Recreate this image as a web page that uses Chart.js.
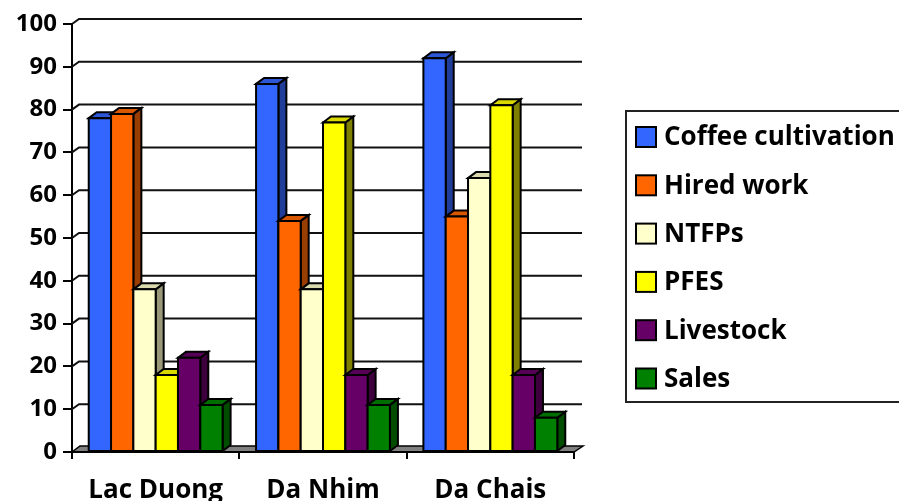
<!DOCTYPE html>
<html>
<head>
<meta charset="utf-8">
<title>Income sources by commune</title>
<script src="https://cdn.jsdelivr.net/npm/chart.js@4/dist/chart.umd.min.js"></script>
<style>
  html, body { margin: 0; padding: 0; background: #fff; overflow: hidden; }
  #wrap { width: 899px; height: 501px; position: relative; }
</style>
</head>
<body>
<div id="wrap"><canvas id="c" width="899" height="501"></canvas></div>
<script>
// Categories and series
const regions = ['Lac Duong', 'Da Nhim', 'Da Chais'];
const seriesNames = ['Coffee cultivation', 'Hired work', 'NTFPs', 'PFES', 'Livestock', 'Sales'];
const coffeeCultivation = [78, 86, 92];
const hiredWork = [79, 54, 55];
const ntfps = [38, 38, 64];
const pfes = [18, 77, 81];
const livestock = [22, 18, 18];
const sales = [11, 11, 8];
const yTickValues = [0, 10, 20, 30, 40, 50, 60, 70, 80, 90, 100];

// Face colours for the pseudo-3D columns
const frontColors = ['#3366FF', '#FF6600', '#FFFFCC', '#FFFF00', '#660066', '#008000'];
const topColors   = ['#2D57D6', '#D95700', '#D9D9AD', '#D9D900', '#570057', '#006D00'];
const sideColors  = ['#1F3D99', '#993D00', '#99997A', '#808000', '#3D003D', '#004D00'];

const seriesValues = [coffeeCultivation, hiredWork, ntfps, pfes, livestock, sales];

const DX = 8, DY = -6;         // depth offset of column tops/sides
const WX = 7, WY = -5;         // depth offset of the back wall
const FONT = "'Open Sans', 'DejaVu Sans', sans-serif";

const wallsPlugin = {
  id: 'walls',
  beforeDatasetsDraw(chart) {
    const ctx = chart.ctx;
    const ys = chart.scales.y;
    const area = chart.chartArea;
    ctx.save();
    // back wall gridlines with slanted connectors to the axis
    ctx.strokeStyle = '#111';
    ctx.lineWidth = 2;
    yTickValues.forEach(v => {
      if (v === 0) return;
      const py = ys.getPixelForValue(v);
      ctx.beginPath();
      ctx.moveTo(area.left, py);
      ctx.lineTo(area.left + WX, py + WY);
      ctx.lineTo(area.right + DX, py + WY);
      ctx.stroke();
    });
    // floor
    const fy = ys.getPixelForValue(0);
    ctx.beginPath();
    ctx.moveTo(area.left, fy);
    ctx.lineTo(area.right, fy);
    ctx.lineTo(area.right + DX + 1, fy + DY);
    ctx.lineTo(area.left + DX, fy + DY);
    ctx.closePath();
    ctx.fillStyle = '#808080';
    ctx.fill();
    ctx.lineWidth = 1.5;
    ctx.strokeStyle = '#000';
    ctx.stroke();
    ctx.beginPath();
    ctx.lineWidth = 2;
    ctx.moveTo(area.left, fy);
    ctx.lineTo(area.right, fy);
    ctx.stroke();
    ctx.restore();
  },
  afterDatasetsDraw(chart) {
    const ctx = chart.ctx;
    ctx.save();
    ctx.lineWidth = 2;
    ctx.strokeStyle = '#000';
    ctx.lineJoin = 'miter';
    const nCat = regions.length;
    for (let j = 0; j < nCat; j++) {
      for (let i = 0; i < seriesValues.length; i++) {
        const meta = chart.getDatasetMeta(i);
        const bar = meta.data[j];
        if (!bar) continue;
        const p = bar.getProps(['x', 'y', 'base', 'width'], true);
        const l = p.x - p.width / 2, r = p.x + p.width / 2;
        const t = p.y, b = p.base;
        // side face
        ctx.beginPath();
        ctx.moveTo(r, t);
        ctx.lineTo(r + DX, t + DY);
        ctx.lineTo(r + DX, b + DY);
        ctx.lineTo(r, b);
        ctx.closePath();
        ctx.fillStyle = sideColors[i];
        ctx.fill();
        ctx.stroke();
        // top face
        ctx.beginPath();
        ctx.moveTo(l, t);
        ctx.lineTo(l + DX, t + DY);
        ctx.lineTo(r + DX, t + DY);
        ctx.lineTo(r, t);
        ctx.closePath();
        ctx.fillStyle = topColors[i];
        ctx.fill();
        ctx.stroke();
        // front face
        ctx.beginPath();
        ctx.rect(l, t, r - l, b - t);
        ctx.fillStyle = frontColors[i];
        ctx.fill();
        ctx.stroke();
      }
    }
    ctx.restore();
  },
  afterDraw(chart) {
    // framed legend on the right
    const ctx = chart.ctx;
    ctx.save();
    ctx.strokeStyle = '#222';
    ctx.lineWidth = 2;
    ctx.strokeRect(626, 111, 300, 291);
    ctx.font = `bold 26px ${FONT}`;
    ctx.textBaseline = 'middle';
    ctx.textAlign = 'left';
    chart.data.datasets.forEach((ds, i) => {
      const cy = 137 + i * 48.3;
      ctx.fillStyle = frontColors[i];
      ctx.fillRect(636, cy - 10, 20, 20);
      ctx.strokeStyle = '#000';
      ctx.lineWidth = 2;
      ctx.strokeRect(636, cy - 10, 20, 20);
      ctx.fillStyle = '#000';
      ctx.fillText(ds.label, 664, cy + 1);
    });
    ctx.restore();
  }
};

new Chart(document.getElementById('c'), {
  type: 'bar',
  data: {
    labels: regions,
    datasets: seriesNames.map((name, i) => ({
      label: name,
      data: seriesValues[i],
      backgroundColor: frontColors[i],
      borderColor: '#000',
      borderWidth: 2
    }))
  },
  options: {
    responsive: false,
    animation: false,
    devicePixelRatio: 1,
    layout: { padding: { top: 24, right: 325, bottom: 0, left: 0 } },
    plugins: { legend: { display: false }, tooltip: { enabled: false } },
    datasets: { bar: { categoryPercentage: 0.8, barPercentage: 1.0 } },
    scales: {
      x: {
        grid: { display: true, drawOnChartArea: false, drawTicks: true, tickLength: 7, color: '#000', lineWidth: 2, offset: true },
        border: { display: false },
        ticks: { color: '#000', font: { family: FONT, weight: 'bold', size: 26 }, padding: 16, maxRotation: 0 },
        afterFit(s) { s.height = 49; }
      },
      y: {
        min: 0, max: 100,
        afterBuildTicks(s) { s.ticks = yTickValues.map(v => ({ value: v })); },
        grid: { display: true, drawOnChartArea: false, drawTicks: true, tickLength: 9, color: '#000', lineWidth: 2 },
        border: { display: true, color: '#000', width: 2 },
        ticks: { color: '#000', font: { family: FONT, weight: 'bold', size: 24 }, padding: 6 },
        afterFit(s) { s.width = 72; }
      }
    }
  },
  plugins: [wallsPlugin]
});
</script>
</body>
</html>
